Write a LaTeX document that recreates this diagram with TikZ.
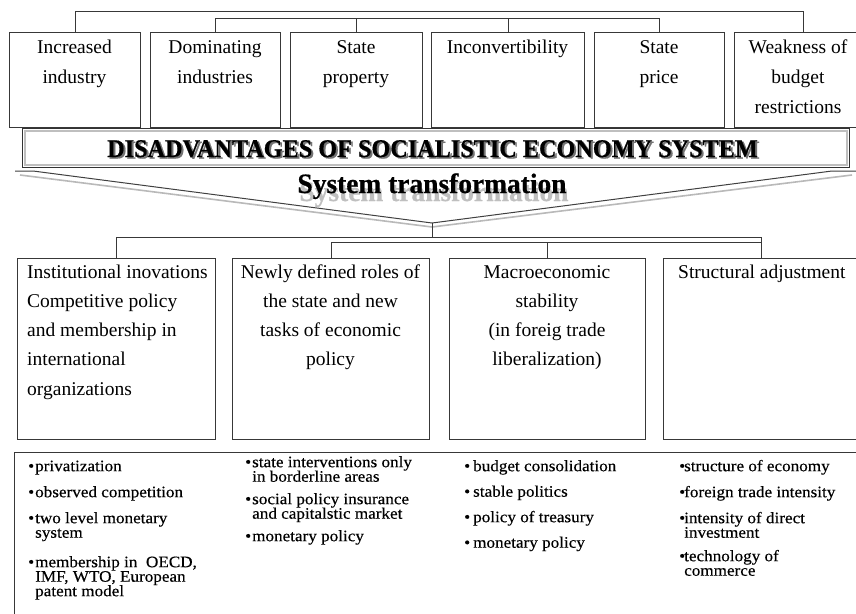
\documentclass[tikz,border=0pt]{standalone}
\usepackage{fontspec}
\setmainfont{Liberation Serif}
\newfontfamily\bannerfont[FakeStretch=0.95,FakeBold=0.6]{Liberation Serif}
\newfontfamily\sysfont[FakeStretch=0.98,FakeBold=0.6]{Liberation Serif}
\newfontfamily\listfont[FakeBold=0.3,FakeStretch=1.07]{Liberation Serif}
\usetikzlibrary{calc}
\newcommand\tstrut{\rule{0pt}{14pt}}
\newcommand\bstrut{\rule{0pt}{12pt}}
\newcommand\itm[2][7pt]{\makebox[#1][l]{•}#2}
\newcommand\cnt[2][7pt]{\hspace*{#1}#2}
\newcommand\tightlines{\lineskiplimit=-100pt\relax\lineskip=0pt\relax}
\tikzset{
  box/.style={draw=black!78, line width=1.1pt, anchor=north west, inner sep=0pt},
  conn/.style={draw=black!78, line width=1pt},
  toptext/.style={anchor=north, inner sep=0pt, align=center, font=\fontsize{19.5}{30}\selectfont},
  midtext/.style={inner sep=0pt, font=\fontsize{19.5}{29.2}\selectfont},
  bottext/.style={anchor=north west, inner sep=0pt, align=left,
    font=\listfont\fontsize{16}{14.5}\selectfont\tightlines},
}
\begin{document}
\begin{tikzpicture}[x=1pt, y=-1pt]
\useasboundingbox (0,0) rectangle (856,613);
\fill[white] (0,0) rectangle (856,613);
\clip (0,0) rectangle (856,613);

% ---------- top boxes ----------
\node[box, minimum width=131pt, minimum height=95pt] (b1) at (9,32) {};
\node[box, minimum width=130pt, minimum height=95pt] (b2) at (150,32) {};
\node[box, minimum width=132pt, minimum height=95pt] (b3) at (290,32) {};
\node[box, minimum width=153pt, minimum height=95pt] (b4) at (431,32) {};
\node[box, minimum width=130pt, minimum height=95pt] (b5) at (594,32) {};
\node[box, minimum width=138pt, minimum height=95pt] (b6) at (734,32) {};

\node[toptext] (t1) at (74.5,39) {\tstrut Increased\\industry};
\node[toptext] (t2) at (215,39) {\tstrut Dominating\\industries};
\node[toptext] (t3) at (356,39) {\tstrut State\\property};
\node[toptext] (t4) at (507.5,39) {\tstrut Inconvertibility};
\node[toptext] (t5) at (659,39) {\tstrut State\\price};
\node[toptext] (t6) at (798,39) {\tstrut Weakness of\\budget\\restrictions};

\coordinate (L1) at (0,11);
\coordinate (L2) at (0,18);
\draw[conn] (b1.north) -- (b1.north |- L1) -- (b6.north |- L1) -- (b6.north);
\draw[conn] (b2.north) -- (b2.north |- L2) -- (b5.north |- L2) -- (b5.north);
\draw[conn] (b3.north) -- (b3.north |- L2);
\draw[conn] (b4.north) -- (b4.north |- L2);

% ---------- banner ----------
\node[draw=black!80, line width=1pt, anchor=north west, inner sep=0pt,
      minimum width=827pt, minimum height=39pt] (ban) at (22,128) {};
\draw[gray!50, line width=1.6pt] ($(ban.north west)+(3,3)$) rectangle ($(ban.south east)+(-3,-3)$);
\node[anchor=base, inner sep=0pt, text=black!55, font=\bannerfont\bfseries\fontsize{25.5}{30}\selectfont]
  (banshadow) at (434.5,158.5) {DISADVANTAGES OF SOCIALISTIC ECONOMY SYSTEM};
\node[anchor=base, inner sep=0pt, font=\bannerfont\bfseries\fontsize{25.5}{30}\selectfont]
  (bantext) at (432.5,157) {DISADVANTAGES OF SOCIALISTIC ECONOMY SYSTEM};

% ---------- chevron ----------
\coordinate (tip) at (432,223);
\draw[gray!55, line width=1.6pt] (20,175) -- (432,227) -- (852,175);
\draw[black!75, line width=1pt] (15,171) -- (33,171) -- (tip) -- (832,171) -- (856,171);
\node[anchor=base, inner sep=0pt, text=gray!50, font=\sysfont\bfseries\fontsize{28}{30}\selectfont]
  (sysshadow) at (434,201) {System transformation};
\node[anchor=base, inner sep=0pt, font=\sysfont\bfseries\fontsize{28}{30}\selectfont]
  (systext) at (432,193) {System transformation};

% ---------- middle boxes ----------
\node[box, minimum width=198pt, minimum height=181pt] (A) at (17,258) {};
\node[box, minimum width=197pt, minimum height=181pt] (B) at (232,258) {};
\node[box, minimum width=196pt, minimum height=181pt] (C) at (449,258) {};
\node[box, minimum width=196pt, minimum height=181pt] (D) at (663,258) {};

\coordinate (M1) at (0,237);
\coordinate (M2) at (0,242);
\draw[conn] (tip) -- (tip |- M1);
\draw[conn] (A.north) -- (A.north |- M1) -- (D.north |- M1) -- (D.north);
\draw[conn] (B.north) -- (B.north |- M2) -- (D.north |- M2);
\draw[conn] (C.north) -- (C.north |- M2);

\node[midtext, anchor=north west, align=left] (tA) at (27,264)
  {\tstrut Institutional inovations\\Competitive policy\\and membership in\\international\\organizations};
\node[midtext, anchor=north, align=center] (tB) at (330.5,264)
  {\tstrut Newly defined roles of\\the state and new\\tasks of economic\\policy};
\node[midtext, anchor=north, align=center] (tC) at (547,264)
  {\tstrut Macroeconomic\\stability\\(in foreig trade\\liberalization)};
\node[midtext, anchor=north west, align=left] (tD) at (678,264)
  {\tstrut Structural adjustment};

% ---------- bottom box ----------
\node[box, minimum width=880pt, minimum height=220pt] (bot) at (14,452) {};

\node[bottext] (c1) at (28,459) {\bstrut\itm{privatization}\\[11.5pt]
  \itm{observed competition}\\[11.5pt]
  \itm{two level monetary}\\\cnt{system}\\[15pt]
  \itm{membership in\ \ OECD,}\\\cnt{IMF, WTO, European}\\\cnt{patent model}};
\node[bottext] (c2) at (245,455) {\bstrut\itm{state interventions only}\\\cnt{in borderline areas}\\[8pt]
  \itm{social policy insurance}\\\cnt{and capitalstic market}\\[8pt]
  \itm{monetary policy}};
\node[bottext] (c3) at (464,459) {\bstrut\itm[9pt]{budget consolidation}\\[11pt]
  \itm[9pt]{stable politics}\\[11pt]
  \itm[9pt]{policy of treasury}\\[11pt]
  \itm[9pt]{monetary policy}};
\node[bottext] (c4) at (679,459) {\bstrut\itm[5pt]{structure of economy}\\[11.5pt]
  \itm[5pt]{foreign trade intensity}\\[11.5pt]
  \itm[5pt]{intensity of direct}\\\cnt[5pt]{investment}\\[9pt]
  \itm[5pt]{technology of}\\\cnt[5pt]{commerce}};
\end{tikzpicture}
\end{document}
